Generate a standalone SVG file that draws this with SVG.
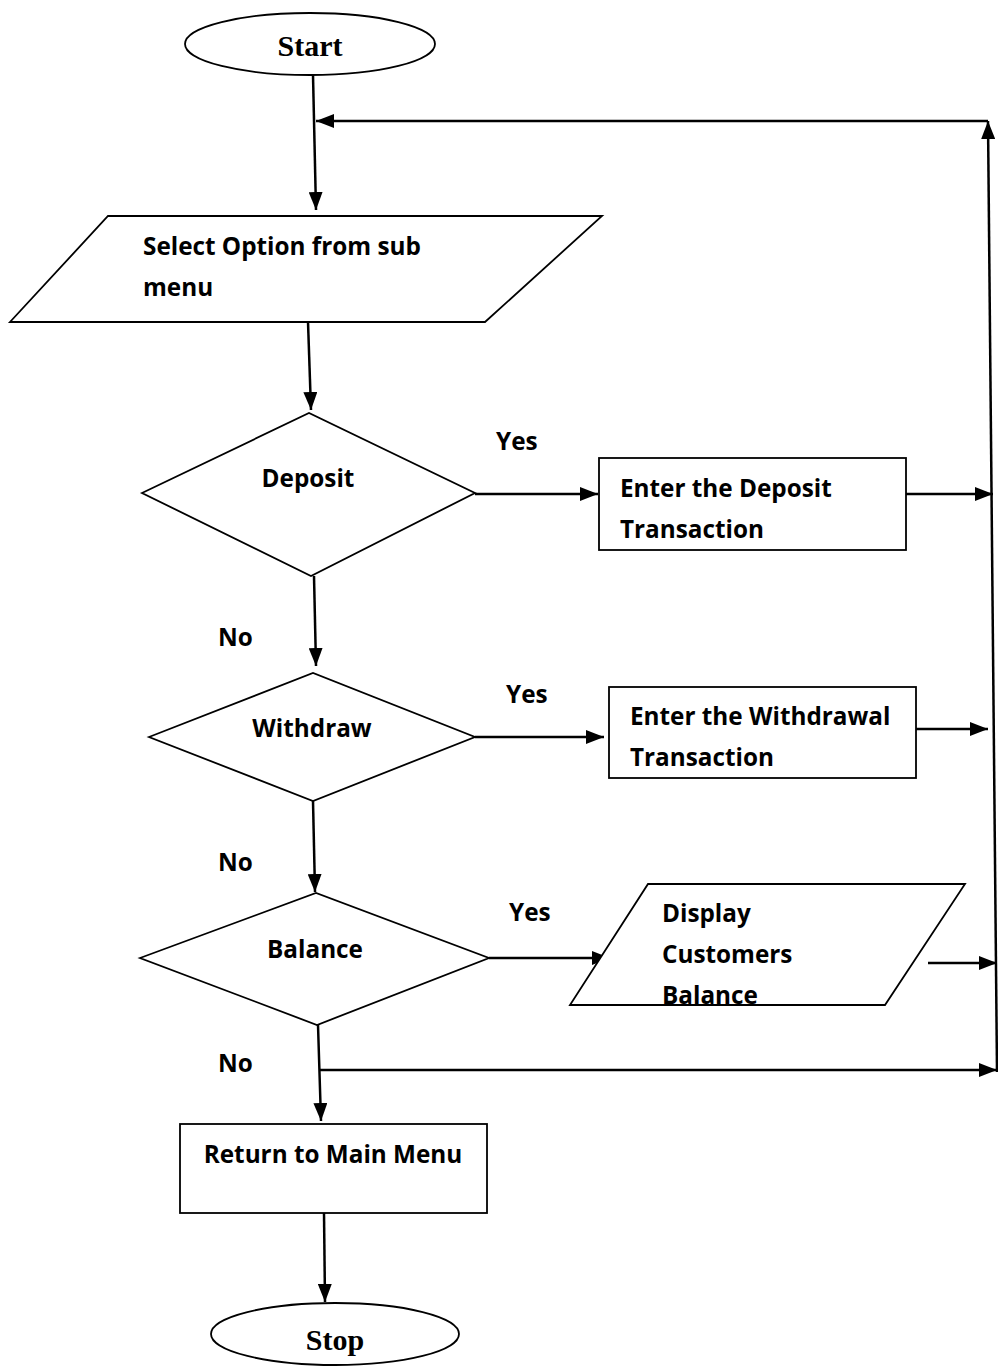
<svg xmlns="http://www.w3.org/2000/svg" width="998" height="1367" viewBox="0 0 998 1367">
<defs>
<marker id="ah" markerUnits="userSpaceOnUse" markerWidth="18" markerHeight="14" viewBox="0 0 18 14" refX="18" refY="7" orient="auto">
<path d="M0,0 L18,7 L0,14 Z" fill="#000"/>
</marker>
<style>
.s{fill:#fff;stroke:#000;stroke-width:1.8}
.a{fill:none;stroke:#000;stroke-width:2.5;marker-end:url(#ah)}
.t{font-family:"Open Sans",Lato,sans-serif;font-weight:bold;font-size:24.3px;fill:#000}
.r{font-family:"Liberation Serif",serif;font-weight:bold;font-size:30px;fill:#000}
</style>
</defs>
<g id="connectors">
<path class="a" d="M313,75 L316,210"/>
<path class="a" d="M997,1072 L988,121"/>
<path class="a" d="M988,121 L316,121"/>
<path class="a" d="M308,322 L311,410"/>
<path class="a" d="M475,494 L598,494"/>
<path class="a" d="M906,494 L993,494"/>
<path class="a" d="M314,576 L316,666"/>
<path class="a" d="M475,737 L604,737"/>
<path class="a" d="M916,729 L988,729"/>
<path class="a" d="M313,801 L315,892"/>
<path class="a" d="M489,958 L610,958"/>
<path class="a" d="M928,963 L997,963"/>
<path class="a" d="M318,1025 L321,1121"/>
<path class="a" d="M319,1070 L997,1070"/>
<path class="a" d="M324,1213 L325,1302"/>
</g>
<g id="labels">
<text class="t" x="496" y="450">Yes</text>
<text class="t" x="506" y="703">Yes</text>
<text class="t" x="509" y="921">Yes</text>
<text class="t" x="218" y="646">No</text>
<text class="t" x="218" y="871">No</text>
<text class="t" x="218" y="1072">No</text>
</g>
<g id="start">
<ellipse class="s" cx="310" cy="44" rx="125" ry="31"/>
<text class="r" x="310" y="56" text-anchor="middle">Start</text>
</g>
<g id="select">
<polygon class="s" points="108,216 602,216 485,322 10,322"/>
<text class="t" x="143" y="255">Select Option from sub</text>
<text class="t" x="143" y="296">menu</text>
</g>
<g id="deposit">
<polygon class="s" points="142,493 309,413 475,493 311,576"/>
<text class="t" x="308" y="487" text-anchor="middle">Deposit</text>
</g>
<g id="enterDeposit">
<rect class="s" x="599" y="458" width="307" height="92"/>
<text class="t" x="620" y="497">Enter the Deposit</text>
<text class="t" x="620" y="538">Transaction</text>
</g>
<g id="withdraw">
<polygon class="s" points="149,737 313,673 475,737 313,801"/>
<text class="t" x="312" y="737" text-anchor="middle">Withdraw</text>
</g>
<g id="enterWithdrawal">
<rect class="s" x="609" y="687" width="307" height="91"/>
<text class="t" x="630" y="725">Enter the Withdrawal</text>
<text class="t" x="630" y="766">Transaction</text>
</g>
<g id="balance">
<polygon class="s" points="140,958 316,893 489,958 317,1025"/>
<text class="t" x="315" y="958" text-anchor="middle">Balance</text>
</g>
<g id="display">
<polygon class="s" points="648,884 965,884 885,1005 570,1005"/>
<text class="t" x="662" y="922">Display</text>
<text class="t" x="662" y="963">Customers</text>
<text class="t" x="662" y="1004">Balance</text>
</g>
<g id="return">
<rect class="s" x="180" y="1124" width="307" height="89"/>
<text class="t" x="333" y="1163" text-anchor="middle">Return to Main Menu</text>
</g>
<g id="stop">
<ellipse class="s" cx="335" cy="1334" rx="124" ry="31"/>
<text class="r" x="335" y="1350" text-anchor="middle">Stop</text>
</g>
</svg>
